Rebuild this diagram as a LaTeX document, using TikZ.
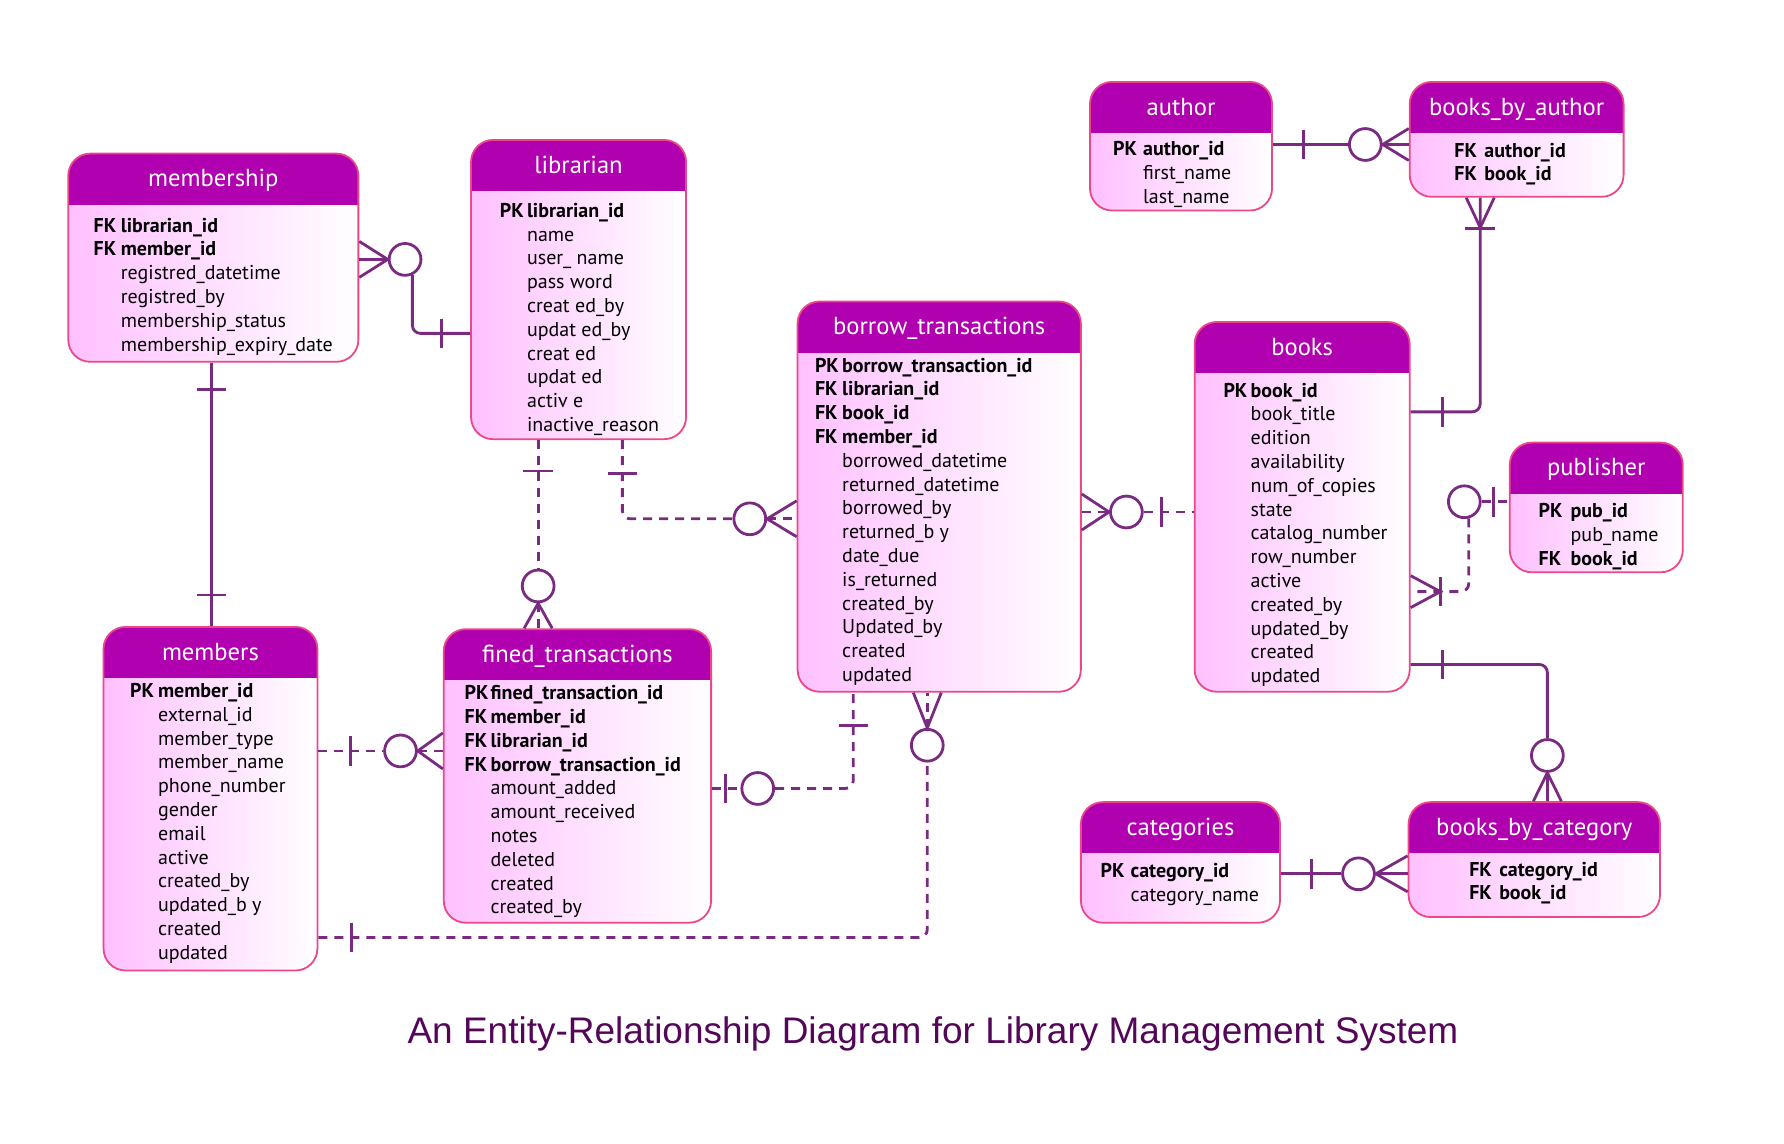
\documentclass[tikz,border=0pt]{standalone}
\usepackage{fontspec}
\setmainfont{PT Sans}
\newfontfamily\erdcapfont{Liberation Sans}
\usetikzlibrary{fit}

\definecolor{hdrcol}{RGB}{176,0,176}
\definecolor{edgecol}{RGB}{236,72,136}
\definecolor{bodycol}{RGB}{255,192,255}
\definecolor{relcol}{RGB}{122,42,128}
\definecolor{capcol}{RGB}{84,6,88}

\newcommand{\onebarv}[1]{\draw[rel] (#1) ++(0,-13) -- ++(0,26);}
\newcommand{\onebarh}[1]{\draw[rel] (#1) ++(-13,0) -- ++(26,0);}

\begin{document}
\begin{tikzpicture}[x=0.5689pt, y=-0.5689pt,
  entity/.style={rounded corners=11pt, draw=edgecol, line width=0.9pt, inner sep=0pt,
    left color=bodycol, right color=white,
    path picture={\fill[hdrcol, sharp corners] (path picture bounding box.north west) rectangle
      ([yshift=-25.6pt]path picture bounding box.north east);}},
  enttitle/.style={anchor=base, text=white, font=\fontsize{12.3}{14}\selectfont},
  attrs/.style={anchor=north west, inner sep=0pt, font=\fontsize{10}{11.9}\selectfont},
  rel/.style={draw=relcol, line width=1.4pt},
  opt/.style={rel, dash pattern=on 4.5pt off 3.5pt},
  zero/.style={circle, draw=relcol, line width=1.4pt, minimum size=15.9pt, inner sep=0pt}]
  \useasboundingbox (0,0) rectangle (1568,1005);

  % entities
  \node[entity, fit={(60,135) (315,318)}] (membership) {};
  \node[enttitle] (membership-t) at ([yshift=-17pt]membership.north) {membership};
  \node[attrs] (membership-a) at (82,189) {\begin{tabular}{@{}p{13.6pt}@{}l@{}}
    \textbf{FK} & \textbf{librarian\_id}\\
    \textbf{FK} & \textbf{member\_id}\\
    & registred\_datetime\\
    & registred\_by\\
    & membership\_status\\
    & membership\_expiry\_date
  \end{tabular}};

  \node[entity, fit={(414,123) (603,386)}] (librarian) {};
  \node[enttitle] (librarian-t) at ([yshift=-17pt]librarian.north) {librarian};
  \node[attrs] (librarian-a) at (439,176) {\begin{tabular}{@{}p{13.6pt}@{}l@{}}
    \textbf{PK} & \textbf{librarian\_id}\\
    & name\\
    & user\_ name\\
    & pass word\\
    & creat ed\_by\\
    & updat ed\_by\\
    & creat ed\\
    & updat ed\\
    & activ e\\
    & inactive\_reason
  \end{tabular}};

  \node[entity, fit={(701,265) (950,608)}] (borrow) {};
  \node[enttitle] (borrow-t) at ([yshift=-17pt]borrow.north) {borrow\_transactions};
  \node[attrs] (borrow-a) at (716,312) {\begin{tabular}{@{}p{13.6pt}@{}l@{}}
    \textbf{PK} & \textbf{borrow\_transaction\_id}\\
    \textbf{FK} & \textbf{librarian\_id}\\
    \textbf{FK} & \textbf{book\_id}\\
    \textbf{FK} & \textbf{member\_id}\\
    & borrowed\_datetime\\
    & returned\_datetime\\
    & borrowed\_by\\
    & returned\_b y\\
    & date\_due\\
    & is\_returned\\
    & created\_by\\
    & Updated\_by\\
    & created\\
    & updated
  \end{tabular}};

  \node[entity, fit={(1050,283) (1239,608)}] (books) {};
  \node[enttitle] (books-t) at ([yshift=-17pt]books.north) {books};
  \node[attrs] (books-a) at (1075,334) {\begin{tabular}{@{}p{13.6pt}@{}l@{}}
    \textbf{PK} & \textbf{book\_id}\\
    & book\_title\\
    & edition\\
    & availability\\
    & num\_of\_copies\\
    & state\\
    & catalog\_number\\
    & row\_number\\
    & active\\
    & created\_by\\
    & updated\_by\\
    & created\\
    & updated
  \end{tabular}};

  \node[entity, fit={(958,72) (1118,185)}] (author) {};
  \node[enttitle] (author-t) at ([yshift=-17pt]author.north) {author};
  \node[attrs] (author-a) at (978,122) {\begin{tabular}{@{}p{15pt}@{}l@{}}
    \textbf{PK} & \textbf{author\_id}\\
    & first\_name\\
    & last\_name
  \end{tabular}};

  \node[entity, fit={(1239,72) (1427,173)}] (bauthor) {};
  \node[enttitle] (bauthor-t) at ([yshift=-17pt]bauthor.north) {books\_by\_author};
  \node[attrs] (bauthor-a) at (1278,123) {\begin{tabular}{@{}p{15pt}@{}l@{}}
    \textbf{FK} & \textbf{author\_id}\\
    \textbf{FK} & \textbf{book\_id}
  \end{tabular}};

  \node[entity, fit={(1327,389) (1479,503)}] (publisher) {};
  \node[enttitle] (publisher-t) at ([yshift=-17pt]publisher.north) {publisher};
  \node[attrs] (publisher-a) at (1352,440) {\begin{tabular}{@{}p{16pt}@{}l@{}}
    \textbf{PK} & \textbf{pub\_id}\\
    & pub\_name\\
    \textbf{FK} & \textbf{book\_id}
  \end{tabular}};

  \node[entity, fit={(91,551) (279,853)}] (members) {};
  \node[enttitle] (members-t) at ([yshift=-17pt]members.north) {members};
  \node[attrs] (members-a) at (114,598) {\begin{tabular}{@{}p{14pt}@{}l@{}}
    \textbf{PK} & \textbf{member\_id}\\
    & external\_id\\
    & member\_type\\
    & member\_name\\
    & phone\_number\\
    & gender\\
    & email\\
    & active\\
    & created\_by\\
    & updated\_b y\\
    & created\\
    & updated
  \end{tabular}};

  \node[entity, fit={(390,553) (625,811)}] (fined) {};
  \node[enttitle] (fined-t) at ([yshift=-17pt]fined.north) {fined\_transactions};
  \node[attrs] (fined-a) at (408,600) {\begin{tabular}{@{}p{13pt}@{}l@{}}
    \textbf{PK} & \textbf{fined\_transaction\_id}\\
    \textbf{FK} & \textbf{member\_id}\\
    \textbf{FK} & \textbf{librarian\_id}\\
    \textbf{FK} & \textbf{borrow\_transaction\_id}\\
    & amount\_added\\
    & amount\_received\\
    & notes\\
    & deleted\\
    & created\\
    & created\_by
  \end{tabular}};

  \node[entity, fit={(950,705) (1125,811)}] (categories) {};
  \node[enttitle] (categories-t) at ([yshift=-17pt]categories.north) {categories};
  \node[attrs] (categories-a) at (967,756) {\begin{tabular}{@{}p{15pt}@{}l@{}}
    \textbf{PK} & \textbf{category\_id}\\
    & category\_name
  \end{tabular}};

  \node[entity, fit={(1238,705) (1459,806)}] (bcat) {};
  \node[enttitle] (bcat-t) at ([yshift=-17pt]bcat.north) {books\_by\_category};
  \node[attrs] (bcat-a) at (1291,755) {\begin{tabular}{@{}p{15pt}@{}l@{}}
    \textbf{FK} & \textbf{category\_id}\\
    \textbf{FK} & \textbf{book\_id}
  \end{tabular}};

  % membership - librarian
  \node[zero] (ml0) at (356,228) {};
  \draw[rel] (membership.east |- ml0) -- (ml0);
  \draw[rel] ([yshift=9pt]membership.east |- ml0) -- (ml0.west) -- ([yshift=-9pt]membership.east |- ml0);
  \draw[rel, rounded corners=4pt] (ml0.-65) |- (librarian.west |- 0,293);
  \onebarv{388,293}

  % membership - members
  \draw[rel] (186,0 |- membership.south) -- (186,0 |- members.north);
  \onebarh{186,342}
  \onebarh{186,523}

  % librarian - fined_transactions
  \node[zero] (lf0) at (473,515) {};
  \draw[opt] (473,0 |- librarian.south) -- (lf0);
  \draw[opt] (lf0) -- (473,0 |- fined.north);
  \draw[rel] ([xshift=-7pt]473,0 |- fined.north) -- (lf0.south) -- ([xshift=7pt]473,0 |- fined.north);
  \onebarh{473,414}

  % librarian - borrow_transactions
  \node[zero] (lb0) at (659,456) {};
  \draw[opt, rounded corners=4pt] (547,0 |- librarian.south) |- (lb0);
  \draw[opt] (lb0) -- (borrow.west |- lb0);
  \draw[rel] ([yshift=9pt]borrow.west |- lb0) -- (lb0.east) -- ([yshift=-9pt]borrow.west |- lb0);
  \onebarh{547,416}

  % borrow_transactions - books
  \node[zero] (bb0) at (990,450) {};
  \draw[opt] (borrow.east |- bb0) -- (bb0);
  \draw[rel] ([yshift=9pt]borrow.east |- bb0) -- (bb0.west) -- ([yshift=-9pt]borrow.east |- bb0);
  \draw[opt] (bb0) -- (books.west |- bb0);
  \onebarv{1021,450}

  % author - books_by_author
  \node[zero] (ab0) at (1200,127) {};
  \draw[rel] (author.east |- ab0) -- (ab0) -- (bauthor.west |- ab0);
  \draw[rel] ([yshift=8pt]bauthor.west |- ab0) -- (ab0.east) -- ([yshift=-8pt]bauthor.west |- ab0);
  \onebarv{1146,127}

  % books - books_by_author
  \coordinate (ba1) at (1301,200);
  \draw[rel, rounded corners=4pt] (books.east |- 0,362) -| (ba1 |- bauthor.south);
  \draw[rel] ([xshift=-7pt]ba1 |- bauthor.south) -- (ba1) -- ([xshift=7pt]ba1 |- bauthor.south);
  \onebarh{1301,201}
  \onebarv{1268,362}

  % books - publisher
  \node[zero] (pb0) at (1287,441) {};
  \coordinate (pb1) at (1266,520);
  \draw[opt] (pb0) -- (publisher.west |- pb0);
  \draw[opt, rounded corners=4pt] (pb0.-75) |- (books.east |- pb1);
  \draw[rel] ([yshift=8pt]books.east |- pb1) -- (pb1) -- ([yshift=-8pt]books.east |- pb1);
  \onebarv{1266,520}
  \onebarv{1313,441}

  % books - books_by_category
  \node[zero] (bc0) at (1360,664) {};
  \draw[rel, rounded corners=4pt] (books.east |- 0,584) -| (bc0);
  \draw[rel] (bc0) -- (bc0 |- bcat.north);
  \draw[rel] ([xshift=-7pt]bc0 |- bcat.north) -- (bc0.south) -- ([xshift=7pt]bc0 |- bcat.north);
  \onebarv{1268,584}

  % categories - books_by_category
  \node[zero] (cb0) at (1194,768) {};
  \draw[rel] (categories.east |- cb0) -- (cb0) -- (bcat.west |- cb0);
  \draw[rel] ([yshift=9pt]bcat.west |- cb0) -- (cb0.east) -- ([yshift=-9pt]bcat.west |- cb0);
  \onebarv{1153,768}

  % members - fined_transactions
  \node[zero] (mf0) at (352,660) {};
  \draw[opt] (members.east |- mf0) -- (mf0) -- (fined.west |- mf0);
  \draw[rel] ([yshift=9pt]fined.west |- mf0) -- (mf0.east) -- ([yshift=-9pt]fined.west |- mf0);
  \onebarv{308,660}

  % fined_transactions - borrow_transactions
  \node[zero] (fb0) at (666,693) {};
  \draw[opt] (fined.east |- fb0) -- (fb0);
  \draw[opt, rounded corners=4pt] (fb0) -| (750,0 |- borrow.south);
  \onebarv{638,693}
  \onebarh{750,638}

  % members - borrow_transactions
  \node[zero] (mb0) at (815,655) {};
  \draw[opt, rounded corners=4pt] (members.east |- 0,824) -| (mb0);
  \draw[opt] (mb0) -- (815,0 |- borrow.south);
  \draw[rel] ([xshift=-7pt]815,0 |- borrow.south) -- (mb0.north) -- ([xshift=7pt]815,0 |- borrow.south);
  \onebarv{309,824}

  \node[text=capcol, font=\erdcapfont\fontsize{18.5}{22}\selectfont] (caption) at (820,909)
    {An Entity-Relationship Diagram for Library Management System};
\end{tikzpicture}
\end{document}
